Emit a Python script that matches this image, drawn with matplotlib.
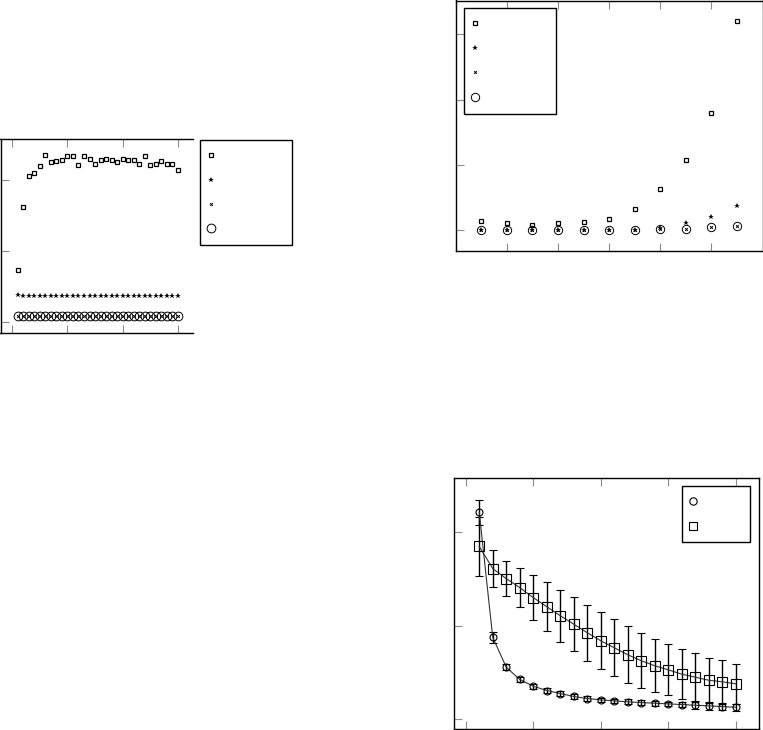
import matplotlib
matplotlib.use('Agg')
import matplotlib.pyplot as plt
from matplotlib.lines import Line2D

W, H = 763, 730

# --- top left panel (runs 1..30)
runs_a = list(range(1, 31))
sq_a = [0.73, 1.62, 2.05, 2.09, 2.20, 2.35, 2.25, 2.27, 2.28, 2.34,
        2.34, 2.21, 2.34, 2.30, 2.23, 2.28, 2.29, 2.28, 2.25, 2.29,
        2.28, 2.28, 2.23, 2.33, 2.21, 2.22, 2.27, 2.23, 2.23, 2.14]
star_a = [0.38, 0.37, 0.37, 0.37, 0.37, 0.37, 0.37, 0.37, 0.37, 0.37,
          0.37, 0.37, 0.37, 0.37, 0.37, 0.37, 0.37, 0.37, 0.37, 0.37,
          0.37, 0.37, 0.37, 0.37, 0.37, 0.37, 0.37, 0.37, 0.37, 0.37]
cross_a = [0.09, 0.09, 0.09, 0.09, 0.09, 0.09, 0.09, 0.09, 0.09, 0.09,
           0.09, 0.09, 0.09, 0.09, 0.09, 0.09, 0.09, 0.09, 0.09, 0.09,
           0.09, 0.09, 0.09, 0.09, 0.09, 0.09, 0.09, 0.09, 0.09, 0.09]
circ_a = [0.09, 0.09, 0.09, 0.09, 0.09, 0.09, 0.09, 0.09, 0.09, 0.09,
          0.09, 0.09, 0.09, 0.09, 0.09, 0.09, 0.09, 0.09, 0.09, 0.09,
          0.09, 0.09, 0.09, 0.09, 0.09, 0.09, 0.09, 0.09, 0.09, 0.09]

# --- top right panel (sizes 1..11)
runs_b = list(range(1, 12))
sq_b = [0.14, 0.11, 0.08, 0.11, 0.12, 0.18, 0.32, 0.63, 1.07, 1.79, 3.20]
star_b = [0.0, 0.0, 0.0, 0.0, 0.0, 0.0, 0.01, 0.03, 0.11, 0.20, 0.37]
cross_b = [0.0, 0.0, 0.0, 0.0, 0.0, 0.0, 0.0, 0.02, 0.025, 0.046, 0.07]
circ_b = [0.0, 0.0, 0.0, 0.0, 0.0, 0.0, 0.0, 0.02, 0.025, 0.046, 0.07]

# --- bottom right panel (steps 1..20, mean +- error)
runs_c = list(range(1, 21))
circ_c = [2.215, 0.877, 0.558, 0.426, 0.354, 0.308, 0.276, 0.244, 0.222, 0.208,
          0.197, 0.187, 0.179, 0.172, 0.165, 0.158, 0.150, 0.144, 0.136, 0.129]
circ_c_err = [0.137, 0.06, 0.03, 0.025, 0.025, 0.025, 0.025, 0.025, 0.025, 0.025,
              0.025, 0.025, 0.025, 0.025, 0.025, 0.03, 0.04, 0.04, 0.04, 0.04]
sq_c = [1.85, 1.614, 1.506, 1.41, 1.303, 1.206, 1.109, 1.019, 0.927, 0.841,
        0.766, 0.691, 0.627, 0.573, 0.530, 0.483, 0.451, 0.418, 0.401, 0.380]
sq_c_err = [0.311, 0.202, 0.184, 0.206, 0.241, 0.261, 0.279, 0.293, 0.299, 0.306,
            0.304, 0.306, 0.295, 0.283, 0.274, 0.266, 0.256, 0.243, 0.234, 0.213]


def px_axes(fig, x0, y0, x1, y1):
    # pixel box (top-left origin) -> figure axes
    return fig.add_axes([x0 / W, 1 - y1 / H, (x1 - x0) / W, (y1 - y0) / H])


def style(ax, right_spine=True):
    for s in ax.spines.values():
        s.set_linewidth(1.0)
        s.set_color('black')
    ax.spines['right'].set_visible(right_spine)
    ax.tick_params(direction='in', length=5.5, width=0.8, color='0.55',
                   top=True, right=False, bottom=True, left=True,
                   labelbottom=False, labelleft=False)


def key(fig, ax, handles, x0, ytop, width):
    leg = ax.legend(handles, [''] * len(handles), loc='upper left',
                    bbox_to_anchor=(x0 / W, 1 - ytop / H, width / W, 0),
                    bbox_transform=fig.transFigure, mode='expand',
                    borderaxespad=0, fancybox=False, framealpha=1,
                    edgecolor='black', fontsize=10, numpoints=1,
                    handlelength=0.3, handletextpad=0.4,
                    labelspacing=0.75, borderpad=0.65)
    leg.get_frame().set_linewidth(1.0)
    return leg


fig = plt.figure(figsize=(W / 100, H / 100), dpi=100)

# top left
ax1 = px_axes(fig, 0.5, 139.3, 193.3, 332.7)
h1 = ax1.plot(runs_a, sq_a, 's', ms=3, mfc='none', mec='black', mew=0.9)[0]
h2 = ax1.plot(runs_a, star_a, '*', ms=4, color='black', mew=0)[0]
h3 = ax1.plot(runs_a, cross_a, 'x', ms=2, color='black', mew=0.7)[0]
h4 = ax1.plot(runs_a, circ_a, 'o', ms=6.3, mfc='none', mec='black', mew=0.7)[0]
ax1.set_xlim(-2.13, 32.8)
ax1.set_ylim(-0.146, 2.57)
ax1.set_xticks([0, 10, 20, 30])
ax1.set_yticks([0, 1, 2])
style(ax1, right_spine=False)
key(fig, ax1, [h1, h2, h3, h4], 200, 140, 91.7)

# top right
ax2 = px_axes(fig, 455.7, 0.5, 762.5, 251)
g1 = ax2.plot(runs_b, sq_b, 's', ms=3, mfc='none', mec='black', mew=0.9)[0]
g2 = ax2.plot(runs_b, star_b, '*', ms=4, color='black', mew=0)[0]
g3 = ax2.plot(runs_b, cross_b, 'x', ms=2, color='black', mew=0.7)[0]
g4 = ax2.plot(runs_b, circ_b, 'o', ms=6, mfc='none', mec='black', mew=0.7)[0]
ax2.set_xlim(0, 12)
ax2.set_ylim(-0.317, 3.52)
ax2.set_xticks([0, 2, 4, 6, 8, 10, 12])
ax2.set_yticks([0, 1, 2, 3])
style(ax2)
key(fig, ax2, [g1, g2, g3, g4], 464.3, 8.3, 91.4)

# bottom right
ax3 = px_axes(fig, 454, 478.3, 759.3, 729)
e1 = ax3.errorbar(runs_c, circ_c, yerr=circ_c_err, fmt='o-', ms=5, mfc='none',
                  mec='black', mew=0.8, color='0.2', lw=0.8, ecolor='black',
                  elinewidth=1.0, capsize=2.9, capthick=1.0)
e2 = ax3.errorbar(runs_c, sq_c, yerr=sq_c_err, fmt='s-', ms=6.5, mfc='none',
                  mec='black', mew=0.8, color='0.2', lw=0.8, ecolor='black',
                  elinewidth=1.0, capsize=2.9, capthick=1.0)
ax3.set_xlim(-0.87, 21.75)
ax3.set_ylim(-0.104, 2.58)
ax3.set_xticks([0, 5, 10, 15, 20])
ax3.set_yticks([0, 1, 2])
style(ax3)
k1 = Line2D([], [], ls='none', marker='o', ms=5.3, mfc='none', mec='black', mew=0.8)
k2 = Line2D([], [], ls='none', marker='s', ms=6.3, mfc='none', mec='black', mew=0.8)
key(fig, ax3, [k1, k2], 682.3, 486, 67.7)

fig.savefig('out.png', dpi=100)
